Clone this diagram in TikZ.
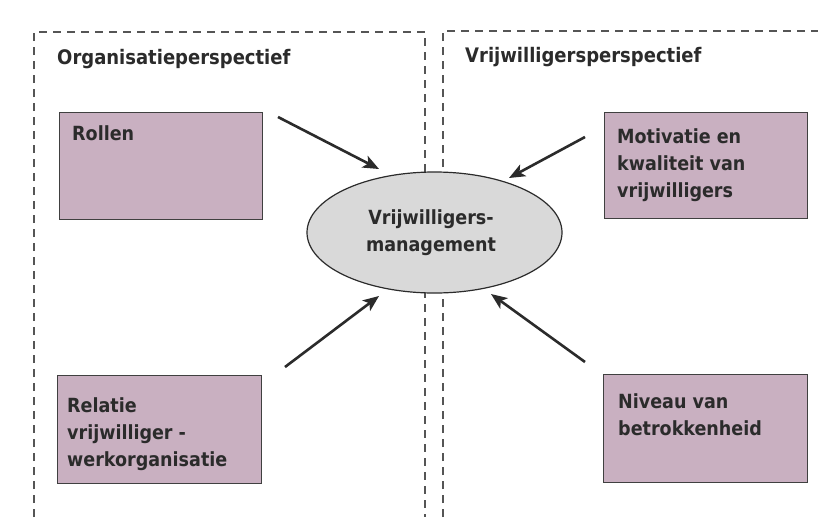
\documentclass[tikz,border=0pt]{standalone}
\usepackage{fontspec}
\setmainfont{DejaVu Sans Condensed}
\usetikzlibrary{arrows.meta,shapes.geometric}
\definecolor{boxfill}{HTML}{C9B0C1}
\definecolor{ellfill}{HTML}{D9D9D9}
\definecolor{ink}{HTML}{2B2B2B}
\begin{document}
\begin{tikzpicture}[x=1pt,y=-1pt,
  frame/.style={draw=ink!80, line width=1.2pt, dash pattern=on 8pt off 6pt},
  factor/.style={draw=ink!90, line width=1pt, fill=boxfill, rectangle, inner sep=0pt},
  factortext/.style={anchor=north west, align=left, inner sep=0pt, text=ink, font=\bfseries\fontsize{19.5}{27}\selectfont},
  title/.style={anchor=base west, inner sep=0pt, text=ink, font=\bfseries\fontsize{20}{24}\selectfont},
  core/.style={ellipse, draw=ink, line width=1.2pt, fill=ellfill, minimum width=255pt, minimum height=121pt, inner sep=0pt},
  coretext/.style={align=center, inner sep=0pt, text=ink, font=\bfseries\fontsize{19.5}{27}\selectfont},
  infl/.style={draw=ink, line width=2.6pt, -{Stealth[length=16pt,width=13pt,inset=4pt]}}
]
\useasboundingbox[fill=white] (0,0) rectangle (818,517);
% frames
\draw[frame] (34,517) -- (34,32) -- (425,32) -- (425,517);
\draw[frame] (443,517) -- (443,31) -- (818,31);
\node[title] (t1) at (57,64) {Organisatieperspectief};
\node[title] (t2) at (465,62) {Vrijwilligersperspectief};
% boxes
\node[factor, minimum width=203pt, minimum height=107pt] (rol) at (160.5,165.5) {};
\node[factor, minimum width=203pt, minimum height=106pt] (mot) at (705.5,165) {};
\node[factor, minimum width=204pt, minimum height=108pt] (rel) at (159,429) {};
\node[factor, minimum width=204pt, minimum height=108pt] (niv) at (705,428) {};
\node[factortext] (rolt) at (72,125) {Rollen};
\node[factortext] (mott) at (617,128) {Motivatie en\\kwaliteit van\\vrijwilligers};
\node[factortext] (relt) at (67,397) {Relatie\\vrijwilliger -\\werkorganisatie};
\node[factortext] (nivt) at (618,393) {Niveau van\\betrokkenheid};
% centre
\node[core] (vm) at (434.5,232.5) {};
\node[coretext] (vmt) at (431,233) {Vrijwilligers-\\management};
% arrow ends
\coordinate (a1s) at (278,117); \coordinate (a1e) at (379,169);
\coordinate (a2s) at (585,137); \coordinate (a2e) at (509,178);
\coordinate (a3s) at (285,367); \coordinate (a3e) at (379,296);
\coordinate (a4s) at (585,362); \coordinate (a4e) at (491,294);
\draw[infl] (a1s) -- (a1e);
\draw[infl] (a2s) -- (a2e);
\draw[infl] (a3s) -- (a3e);
\draw[infl] (a4s) -- (a4e);
\end{tikzpicture}
\end{document}
